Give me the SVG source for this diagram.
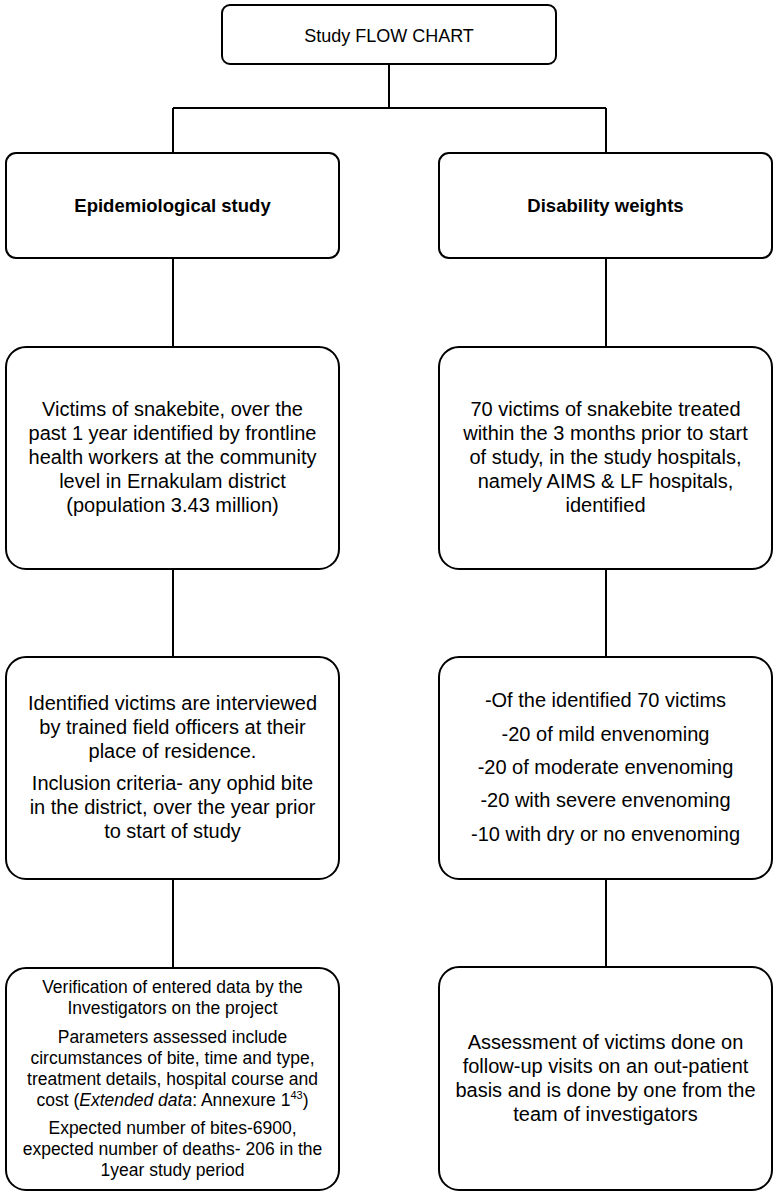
<svg xmlns="http://www.w3.org/2000/svg" width="776" height="1196" viewBox="0 0 776 1196">
<style>
.box{fill:#fff;stroke:#000;stroke-width:2}
.ln{fill:none;stroke:#000;stroke-width:2}
text{font-family:"Liberation Sans",Arial,sans-serif;fill:#000;text-anchor:middle}
.t20{font-size:20px}
.t17{font-size:17.5px}
.b{font-weight:bold;font-size:18.5px}
</style>
<rect width="776" height="1196" fill="#fff"/>
<g id="connectors">
<path class="ln" d="M389 64V108M173 108H606M173 108V153M606 108V153"/>
<path class="ln" d="M173 258V347M173 569V657M173 879V968"/>
<path class="ln" d="M606 258V347M606 569V657M606 879V967"/>
</g>
<g id="title">
<rect class="box" x="222" y="5" width="334" height="59" rx="8"/>
<text x="389" y="42" style="font-size:18px">Study FLOW CHART</text>
</g>
<g id="epi">
<rect class="box" x="6" y="153" width="333" height="105" rx="10"/>
<text class="b" x="172.5" y="212">Epidemiological study</text>
</g>
<g id="dw">
<rect class="box" x="439" y="153" width="333" height="105" rx="10"/>
<text class="b" x="605.5" y="212">Disability weights</text>
</g>
<g id="epi1">
<rect class="box" x="6" y="347" width="333" height="222" rx="20"/>
<text class="t20" x="172.5" y="416">Victims of snakebite, over the</text>
<text class="t20" x="172.5" y="440">past 1 year identified by frontline</text>
<text class="t20" x="172.5" y="464">health workers at the community</text>
<text class="t20" x="172.5" y="488">level in Ernakulam district</text>
<text class="t20" x="172.5" y="512">(population 3.43 million)</text>
</g>
<g id="epi2">
<rect class="box" x="6" y="657" width="333" height="222" rx="20"/>
<text class="t20" x="172.5" y="710">Identified victims are interviewed</text>
<text class="t20" x="172.5" y="734">by trained field officers at their</text>
<text class="t20" x="172.5" y="758">place of residence.</text>
<text class="t20" x="172.5" y="790">Inclusion criteria- any ophid bite</text>
<text class="t20" x="172.5" y="814">in the district, over the year prior</text>
<text class="t20" x="172.5" y="838">to start of study</text>
</g>
<g id="epi3">
<rect class="box" x="6" y="968" width="333" height="222" rx="20"/>
<text class="t17" x="172.5" y="993">Verification of entered data by the</text>
<text class="t17" x="172.5" y="1014">Investigators on the project</text>
<text class="t17" x="172.5" y="1043">Parameters assessed include</text>
<text class="t17" x="172.5" y="1064">circumstances of bite, time and type,</text>
<text class="t17" x="172.5" y="1085">treatment details, hospital course and</text>
<text class="t17" x="172.5" y="1106">cost (<tspan font-style="italic">Extended data</tspan>: Annexure 1<tspan font-size="11" dy="-7">43</tspan><tspan dy="7">)</tspan></text>
<text class="t17" x="172.5" y="1134">Expected number of bites-6900,</text>
<text class="t17" x="172.5" y="1155">expected number of deaths- 206 in the</text>
<text class="t17" x="172.5" y="1176">1year study period</text>
</g>
<g id="dw1">
<rect class="box" x="439" y="347" width="333" height="222" rx="20"/>
<text class="t20" x="605.5" y="416">70 victims of snakebite treated</text>
<text class="t20" x="605.5" y="440">within the 3 months prior to start</text>
<text class="t20" x="605.5" y="464">of study, in the study hospitals,</text>
<text class="t20" x="605.5" y="488">namely AIMS &amp; LF hospitals,</text>
<text class="t20" x="605.5" y="512">identified</text>
</g>
<g id="dw2">
<rect class="box" x="439" y="657" width="333" height="222" rx="20"/>
<text class="t20" x="605.5" y="707">-Of the identified 70 victims</text>
<text class="t20" x="605.5" y="741">-20 of mild envenoming</text>
<text class="t20" x="605.5" y="774">-20 of moderate envenoming</text>
<text class="t20" x="605.5" y="807">-20 with severe envenoming</text>
<text class="t20" x="605.5" y="841">-10 with dry or no envenoming</text>
</g>
<g id="dw3">
<rect class="box" x="439" y="967" width="333" height="223" rx="20"/>
<text class="t20" x="605.5" y="1049">Assessment of victims done on</text>
<text class="t20" x="605.5" y="1073">follow-up visits on an out-patient</text>
<text class="t20" x="605.5" y="1097">basis and is done by one from the</text>
<text class="t20" x="605.5" y="1121">team of investigators</text>
</g>
</svg>
